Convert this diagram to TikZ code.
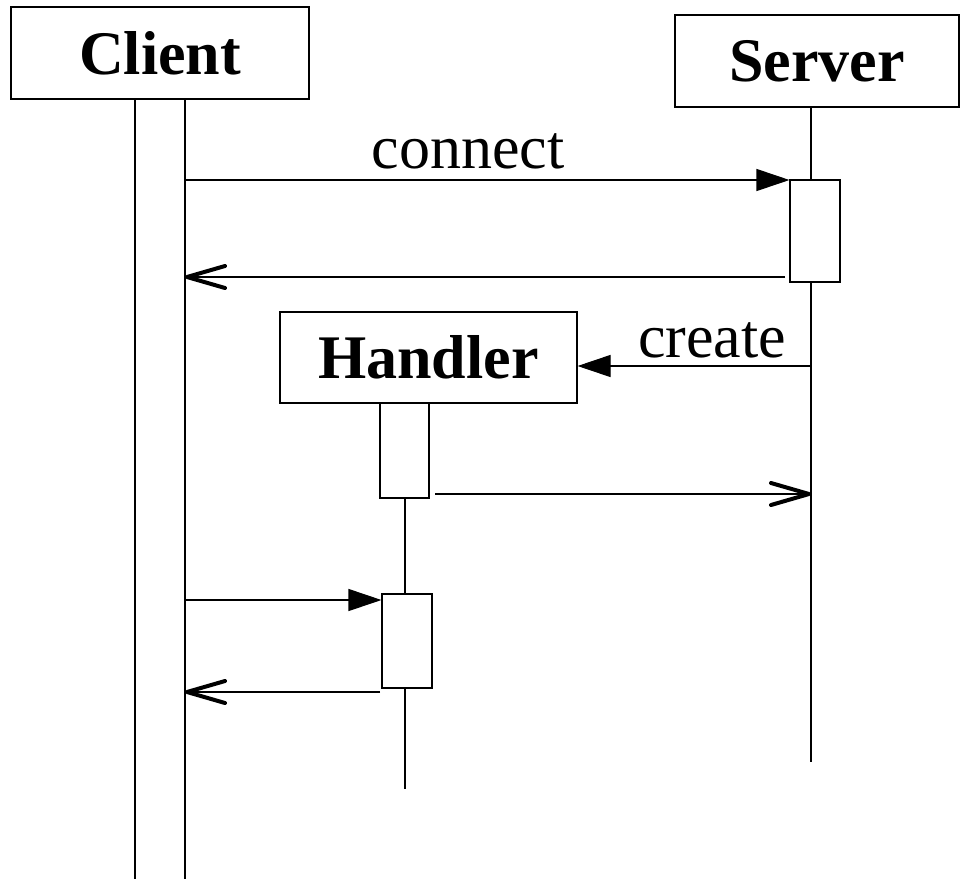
\documentclass[tikz,border=0pt]{standalone}
\usepackage{fontspec}
\setmainfont{Liberation Serif}
\usetikzlibrary{arrows.meta}
\begin{document}
\begin{tikzpicture}[x=1pt,y=-1pt,
  line width=1.1pt,
  bigtext/.style={font=\fontsize{62}{70}\selectfont},
  objbox/.style={draw, fill=white, font=\fontsize{62}{70}\selectfont\bfseries,
                 inner sep=0pt, minimum height=92pt},
  actbox/.style={draw, fill=white, inner sep=0pt, minimum width=50pt},
  lbl/.style={bigtext, anchor=base, inner sep=0pt},
  callarrow/.style={-{Triangle[length=33pt,width=22pt]}},
  retarrow/.style={-{Straight Barb[length=38pt,width=22pt,line width=4pt,round]}},
]
\useasboundingbox (0,0) rectangle (961,879);

% objects
\node[objbox, minimum width=298pt] (client)  at (160,53)    {Client};
\node[objbox, minimum width=284pt] (server)  at (817,61)    {Server};
\node[objbox, minimum width=297pt, minimum height=91pt] (handler) at (428.5,357.5) {Handler};

% lifeline points
\coordinate (cl1) at (135,99);   \coordinate (cl1e) at (135,879);
\coordinate (cl2) at (185,99);   \coordinate (cl2e) at (185,879);
\coordinate (sl)  at (811,107);  \coordinate (sle)  at (811,762);
\coordinate (hle) at (405,789);

% activation bars
\node[actbox, minimum height=102pt] (sact)  at (815,231)   {};
\node[actbox, minimum width=49pt, minimum height=95pt] (hact1) at (404.5,450.5) {};
\node[actbox, minimum height=94pt]  (hact2) at (407,641)   {};

% lifelines
\draw (cl1) -- (cl1e);
\draw (cl2) -- (cl2e);
\draw (server.south -| sl) -- (sact.north -| sl);
\draw (sact.south -| sl) -- (sle);
\draw (hact1.south -| 405,0) -- (hact2.north -| 405,0);
\draw (hact2.south -| 405,0) -- (hle);

% messages
\coordinate (m1s) at (185,180);
\coordinate (m2s) at (785,277);  \coordinate (m2e) at (185,277);
\coordinate (m3s) at (811,366);
\coordinate (m4s) at (435,494);  \coordinate (m4e) at (811,494);
\coordinate (m5s) at (185,600);
\coordinate (m6s) at (380,692);  \coordinate (m6e) at (185,692);

\draw[callarrow] (m1s) -- (m1s -| sact.west);
\draw[retarrow]  (m2s) -- (m2e);
\draw[callarrow] (m3s) -- (m3s -| handler.east);
\draw[retarrow]  (m4s) -- (m4e);
\draw[callarrow] (m5s) -- (m5s -| hact2.west);
\draw[retarrow]  (m6s) -- (m6e);

% labels
\node[lbl] (lconnect) at (468,168) {connect};
\node[lbl] (lcreate)  at (712,357) {create};
\end{tikzpicture}
\end{document}
